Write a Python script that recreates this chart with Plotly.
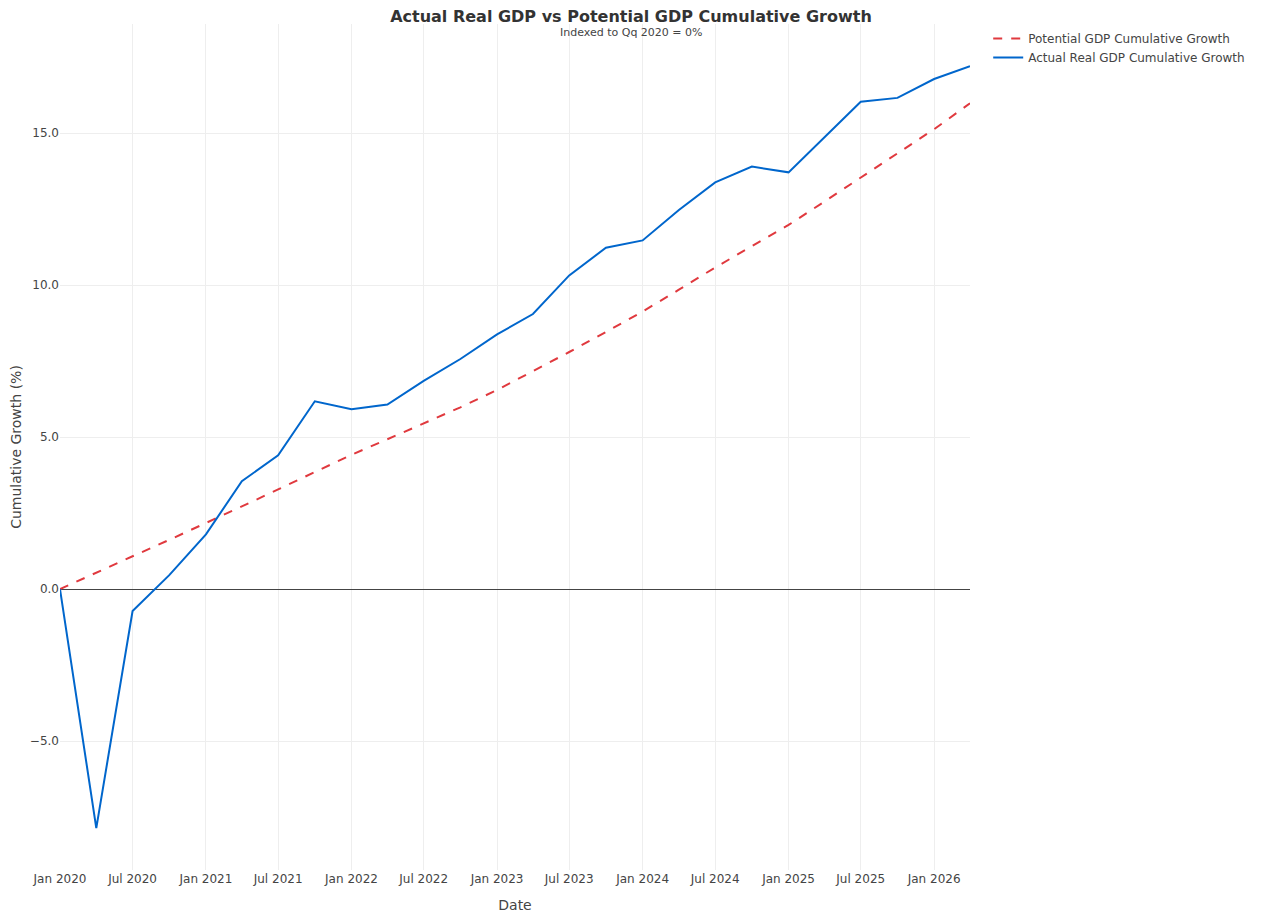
import plotly.graph_objects as go

# Quarterly dates, Q1 2020 through Q2 2026
dates = [
    "2020-01-01", "2020-04-01", "2020-07-01", "2020-10-01",
    "2021-01-01", "2021-04-01", "2021-07-01", "2021-10-01",
    "2022-01-01", "2022-04-01", "2022-07-01", "2022-10-01",
    "2023-01-01", "2023-04-01", "2023-07-01", "2023-10-01",
    "2024-01-01", "2024-04-01", "2024-07-01", "2024-10-01",
    "2025-01-01", "2025-04-01", "2025-07-01", "2025-10-01",
    "2026-01-01", "2026-04-01",
]

# cumulative growth (%)
potential_growth = [
    0.0, 0.55, 1.08, 1.62,
    2.17, 2.72, 3.28, 3.85,
    4.42, 4.93, 5.45, 5.98,
    6.55, 7.17, 7.80, 8.46,
    9.13, 9.85, 10.58, 11.28,
    11.98, 12.75, 13.53, 14.32,
    15.13, 15.98,
]
actual_growth = [
    0.0, -7.86, -0.72, 0.46,
    1.80, 3.55, 4.40, 6.18,
    5.92, 6.07, 6.85, 7.57,
    8.38, 9.05, 10.32, 11.23,
    11.47, 12.47, 13.38, 13.90,
    13.71, 14.86, 16.03, 16.16,
    16.78, 17.20,
]

fig = go.Figure()

fig.add_trace(go.Scatter(
    x=dates,
    y=potential_growth,
    mode="lines",
    name="Potential GDP Cumulative Growth",
    line=dict(color="#E0393E", width=2, dash="dash"),
))

fig.add_trace(go.Scatter(
    x=dates,
    y=actual_growth,
    mode="lines",
    name="Actual Real GDP Cumulative Growth",
    line=dict(color="#0066CC", width=2),
))

# subtitle sits just under the top of the plot area
fig.add_annotation(
    text="Indexed to Qq 2020 = 0%",
    xref="paper", yref="paper",
    x=0.6275, y=1,
    xanchor="center", yanchor="middle",
    yshift=-8,
    showarrow=False,
    font=dict(size=11, color="#444"),
)

fig.update_layout(
    width=1267,
    height=912,
    template="plotly_white",
    plot_bgcolor="white",
    paper_bgcolor="white",
    font=dict(family="DejaVu Sans", size=12, color="#444"),
    title=dict(
        text="<b>Actual Real GDP vs Potential GDP Cumulative Growth</b>",
        x=0.4917,
        xanchor="center",
        y=0.991,
        yanchor="middle",
        font=dict(size=16, color="#333"),
    ),
    margin=dict(l=52, r=305, t=16, b=50),
    xaxis=dict(
        title=dict(text="Date", font=dict(size=14)),
        type="date",
        tick0="2020-01-01",
        dtick="M6",
        tickformat="%b %Y",
        showgrid=True,
        gridcolor="#EEEEEE",
        zeroline=False,
        showline=False,
        automargin=False,
        range=[dates[0], dates[-1]],
    ),
    yaxis=dict(
        title=dict(text="Cumulative Growth (%)", font=dict(size=14), standoff=6),
        dtick=5,
        tickformat=".1f",
        showgrid=True,
        gridcolor="#EEEEEE",
        zeroline=True,
        zerolinecolor="#444",
        zerolinewidth=1,
        automargin=False,
        range=[-9.24, 18.59],
    ),
    legend=dict(font=dict(size=12)),
)

fig.write_html("out.html")
